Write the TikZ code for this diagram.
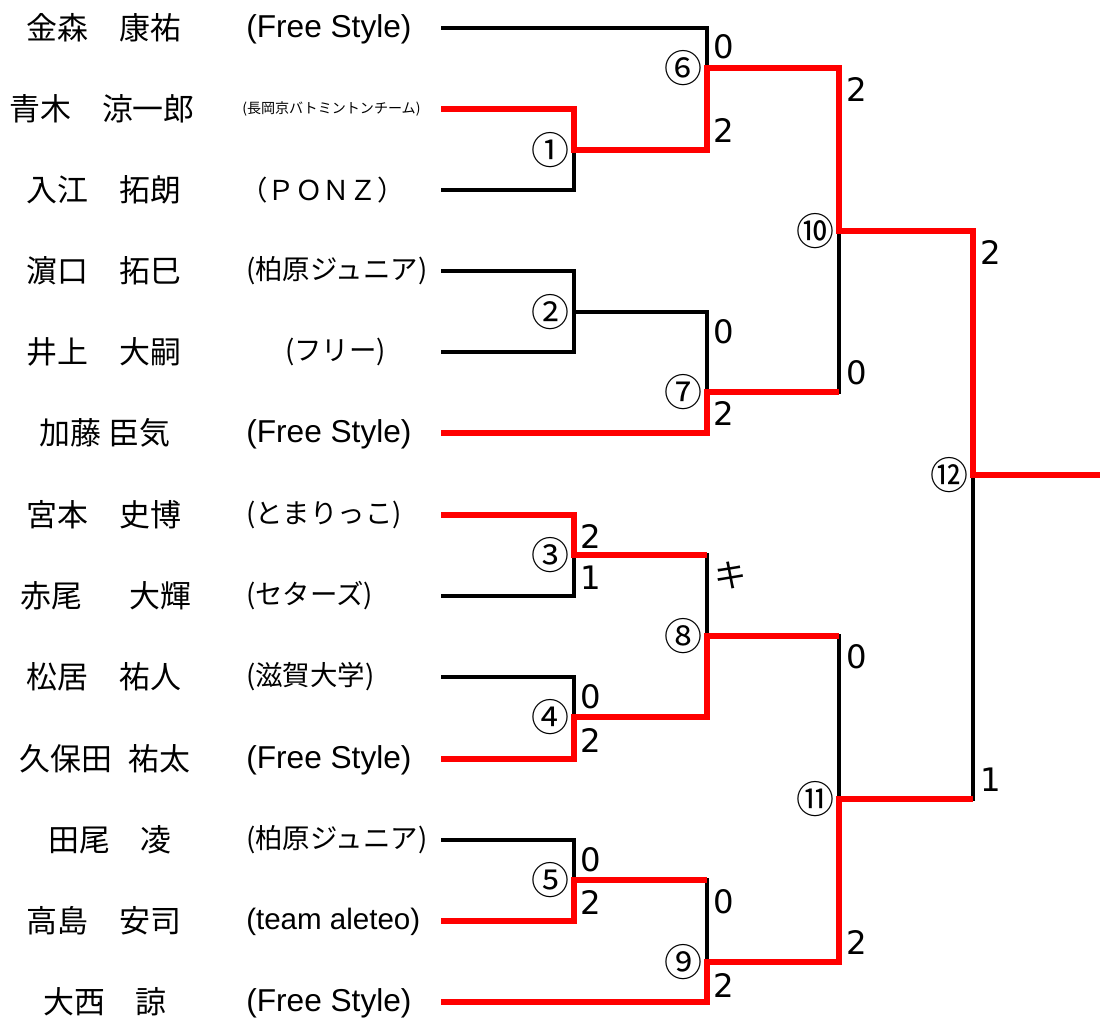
\documentclass[tikz,border=0pt]{standalone}
\usepackage{fontspec}
\newfontfamily\jp{Noto Sans CJK JP}
\newfontfamily\lat{DejaVu Sans}
\newfontfamily\latclubfont{Liberation Sans}
\usetikzlibrary{positioning}
\begin{document}
\begin{tikzpicture}[
        x=0.025cm, y=-0.025cm,
        every node/.style={font=\jp\fontsize{22pt}{26pt}\selectfont, inner sep=0pt},
        player/.style={anchor=center},
        club/.style={anchor=west, font=\jp\fontsize{19.5pt}{24pt}\selectfont},
        latclub/.style={anchor=west, font=\latclubfont\fontsize{22.5pt}{26pt}\selectfont},
        small/.style={anchor=west, font=\jp\fontsize{10pt}{12pt}\selectfont},
        score/.style={anchor=west, font=\lat\fontsize{23pt}{26pt}\selectfont},
        game/.style={anchor=east, font=\jp\fontsize{27pt}{30pt}\selectfont},
        lost/.style={draw=black, line width=2.3pt},
        won/.style={draw=red, line width=3.6pt},
    ]
    \useasboundingbox (0,0) rectangle (1100,1018);

    % players
    \node[player](n1) at (104,28) {金森　康祐};
    \node[player](n2) at (102,109) {青木　涼一郎};
    \node[player](n3) at (104,190) {入江　拓朗};
    \node[player](n4) at (104,271) {濵口　拓巳};
    \node[player](n5) at (104,352) {井上　大嗣};
    \node[player](n6) at (105,433) {加藤 臣気};
    \node[player](n7) at (104,515) {宮本　史博};
    \node[player](n8) at (106,596) {赤尾\hspace{0.5em}　大輝};
    \node[player](n9) at (104,677) {松居　祐人};
    \node[player](n10) at (105,759) {久保田\hspace{0.5em}祐太};
    \node[player](n11) at (110,840) {田尾　凌};
    \node[player](n12) at (104,921) {高島　安司};
    \node[player](n13) at (105,1002) {大西　諒};

    % clubs
    \node[latclub](c1) at (246,29) {(Free Style)};
    \node[small](c2) at (242,109) {(長岡京バトミントンチーム)};
    \node[club](c3) at (240,190) {（ＰＯＮＺ）};
    \node[club](c4) at (246,271) {(柏原ジュニア)};
    \node[club](c5) at (285,352) {(フリー)};
    \node[latclub](c6) at (246,434) {(Free Style)};
    \node[club](c7) at (246,515) {(とまりっこ)};
    \node[club](c8) at (246,596) {(セターズ)};
    \node[club](c9) at (246,677) {(滋賀大学)};
    \node[latclub](c10) at (246,760) {(Free Style)};
    \node[club](c11) at (246,840) {(柏原ジュニア)};
    \node[latclub, font=\latclubfont\fontsize{21pt}{26pt}\selectfont](c12) at (246,922) {(team aleteo)};
    \node[latclub](c13) at (246,1003) {(Free Style)};

    % line starts
    \foreach \i/\y in {1/28,2/109,3/190,4/271,5/352,6/433,7/515,
                       8/596,9/677,10/759,11/840,12/921,13/1002}
        \coordinate (p\i) at (441,\y);

    % match points
    \coordinate (m1) at (574,150);
    \coordinate (m2) at (574,312);
    \coordinate (m3) at (574,555);
    \coordinate (m4) at (574,717);
    \coordinate (m5) at (574,880);
    \coordinate (m6) at (707,68);
    \coordinate (m7) at (707,392);
    \coordinate (m8) at (707,636);
    \coordinate (m9) at (707,962);
    \coordinate (m10) at (839,231);
    \coordinate (m11) at (839,799);
    \coordinate (m12) at (973,475);
    \coordinate (champ) at (1100,475);

    % losing lines
    \path[lost]
    (p1) -| (m6)
    (p3) -| (m1)
    (p4) -| (m2) (p5) -| (m2) -| (m7)
    (m7) -| (m10)
    (p8) -| (m3) -| (m8)
    (p9) -| (m4)
    (m8) -| (m11)
    (p11) -| (m5) -| (m9)
    (m11) -| (m12)
    ;

    % winning lines
    \path[won]
    (p2) -| (m1) -| (m6) -| (m10) -| (m12) -- (champ)
    (p6) -| (m7) -- (m7 -| m10)
    (p7) -| (m3) -- (m3 -| m8)
    (p10) -| (m4) -| (m8) -- (m8 -| m11)
    (p12) -| (m5) -- (m5 -| m9)
    (p13) -| (m9) -| (m11) -- (m11 -| m12)
    ;

    % match numbers
    \node[game, left=3pt of m1](g1) {①};
    \node[game, left=3pt of m2](g2) {②};
    \node[game, left=3pt of m3](g3) {③};
    \node[game, left=3pt of m4](g4) {④};
    \node[game, left=3pt of m5](g5) {⑤};
    \node[game, left=3pt of m6](g6) {⑥};
    \node[game, left=3pt of m7](g7) {⑦};
    \node[game, left=3pt of m8](g8) {⑧};
    \node[game, left=3pt of m9](g9) {⑨};
    \node[game, left=3pt of m10](g10) {⑩};
    \node[game, left=3pt of m11](g11) {⑪};
    \node[game, left=3pt of m12](g12) {⑫};

    % scores
    \node[score](s6a) at (713,47) {0};
    \node[score](s6b) at (713,130) {2};
    \node[score](s7a) at (713,332) {0};
    \node[score](s7b) at (713,413) {2};
    \node[score](s10a) at (846,90) {2};
    \node[score](s10b) at (846,373) {0};
    \node[score](s12a) at (980,252) {2};
    \node[score](s12b) at (980,780) {1};
    \node[score](s3a) at (580,536) {2};
    \node[score](s3b) at (580,578) {1};
    \node[score, font=\jp\fontsize{23pt}{26pt}\selectfont](s8a) at (714,575) {キ};
    \node[score](s4a) at (580,697) {0};
    \node[score](s4b) at (580,740) {2};
    \node[score](s5a) at (580,860) {0};
    \node[score](s5b) at (580,902) {2};
    \node[score](s9a) at (713,902) {0};
    \node[score](s9b) at (713,985) {2};
    \node[score](s11a) at (846,657) {0};
    \node[score](s11b) at (846,942) {2};
\end{tikzpicture}
\end{document}
